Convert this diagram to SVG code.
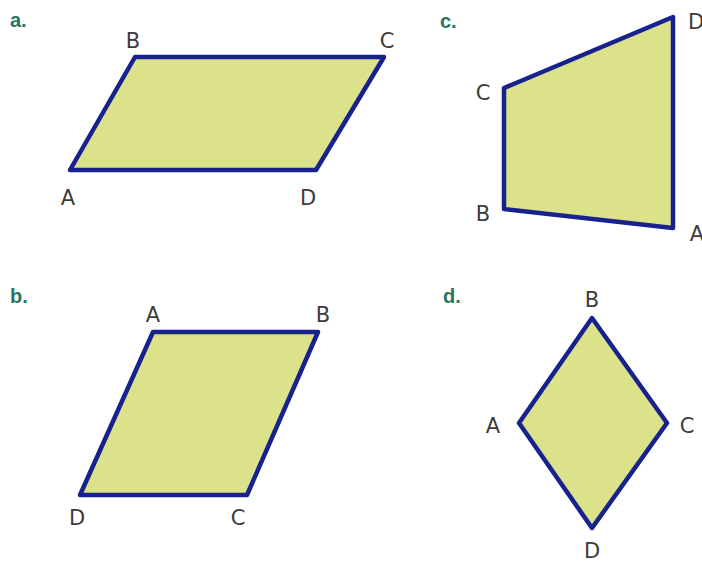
<svg xmlns="http://www.w3.org/2000/svg" width="702" height="568" viewBox="0 0 702 568">
<style>
.shape{fill:#dce28a;stroke:#17228f;stroke-width:4.5;stroke-linejoin:round}
.lbl{font-family:"DejaVu Sans","Liberation Sans",sans-serif;font-size:21px;fill:#3c3c3c;text-anchor:middle}
.tag{font-family:"Liberation Sans",Arial,sans-serif;font-size:20px;font-weight:bold;fill:#2a7560}
</style>
<rect width="702" height="568" fill="#ffffff"/>
<g id="fig-a">
<text class="tag" x="10" y="27">a.</text>
<polygon class="shape" points="70,170 135,57 384,57 316,170"/>
<text class="lbl" x="133" y="48">B</text>
<text class="lbl" x="387" y="48">C</text>
<text class="lbl" x="68" y="205">A</text>
<text class="lbl" x="308" y="205">D</text>
</g>
<g id="fig-c">
<text class="tag" x="440" y="28">c.</text>
<polygon class="shape" points="504,88 673,17 673,228 504,209"/>
<text class="lbl" x="483" y="100">C</text>
<text class="lbl" x="483" y="221">B</text>
<text class="lbl" x="696" y="29">D</text>
<text class="lbl" x="697" y="241">A</text>
</g>
<g id="fig-b">
<text class="tag" x="10" y="303">b.</text>
<polygon class="shape" points="153,332 318,332 247,495 80,495"/>
<text class="lbl" x="153" y="322">A</text>
<text class="lbl" x="323" y="322">B</text>
<text class="lbl" x="77" y="525">D</text>
<text class="lbl" x="238" y="525">C</text>
</g>
<g id="fig-d">
<text class="tag" x="443" y="303">d.</text>
<polygon class="shape" points="592,318 667,423 592,528 519,423"/>
<text class="lbl" x="592" y="307">B</text>
<text class="lbl" x="493" y="433">A</text>
<text class="lbl" x="687" y="433">C</text>
<text class="lbl" x="592" y="558">D</text>
</g>
<g id="connectors"></g>
</svg>
